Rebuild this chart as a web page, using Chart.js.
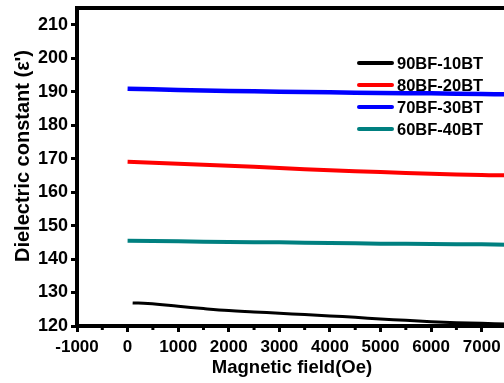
<!DOCTYPE html>
<html>
<head>
<meta charset="utf-8">
<script src="https://cdn.jsdelivr.net/npm/chart.js@4/dist/chart.umd.min.js"></script>
<style>
  html, body { margin: 0; padding: 0; background: #fff; overflow: hidden; }
  #wrap { width: 512px; height: 383px; }
</style>
</head>
<body>
<div id="wrap"><canvas id="chart" width="512" height="383"></canvas></div>
<script>
"use strict";

// ===== Data =====
const seriesNames = ['90BF-10BT', '80BF-20BT', '70BF-30BT', '60BF-40BT'];
const seriesColors = ['#000000', '#ff0000', '#0000ff', '#008080'];

const fieldBlack = [100, 400, 1000, 1500, 2000, 2500, 3000, 3500, 4000, 4500, 5000, 5500, 6000, 6500, 7000, 7500];
const eps90BF = [126.9, 126.7, 125.9, 125.2, 124.6, 124.2, 123.8, 123.4, 123.0, 122.6, 122.1, 121.7, 121.3, 121.0, 120.8, 120.6];

const fieldOe = [0, 1000, 2000, 3000, 4000, 5000, 6000, 7000, 7500];
const eps80BF = [169.1, 168.5, 167.9, 167.2, 166.5, 166.0, 165.5, 165.1, 165.0];
const eps70BF = [190.9, 190.5, 190.2, 190.0, 189.8, 189.6, 189.5, 189.3, 189.2];
const eps60BF = [145.5, 145.3, 145.1, 145.0, 144.8, 144.6, 144.5, 144.4, 144.3];

const xMin = -1000, xMax = 7500, xStep = 500;
const yMin = 120, yMax = 215, yStep = 5;

// ===== Helpers =====
const FONT = "'Liberation Sans', Arial, sans-serif";
const pts = (xs, ys) => xs.map((x, i) => ({ x, y: ys[i] }));

function mkSet(ix, xs, ys, width) {
    return {
        label: seriesNames[ix],
        data: pts(xs, ys),
        borderColor: seriesColors[ix],
        backgroundColor: seriesColors[ix],
        borderWidth: width,
        pointRadius: 0,
        tension: 0.4,
        fill: false
    };
}

// frame top, minor ticks, y title, legend
const decor = {
    id: 'decor',
    afterDraw(chart) {
        const { ctx, chartArea: ca, scales } = chart;
        ctx.save();
        ctx.strokeStyle = '#000';
        ctx.lineWidth = 4;
        ctx.beginPath();
        ctx.moveTo(ca.left - 2, ca.top);
        ctx.lineTo(ca.right + 10, ca.top);
        ctx.stroke();

        // minor ticks
        ctx.lineWidth = 3;
        scales.x.ticks.forEach((t) => {
            if (t.value % 1000 !== 0) {
                const px = scales.x.getPixelForValue(t.value);
                ctx.beginPath();
                ctx.moveTo(px, ca.bottom);
                ctx.lineTo(px, ca.bottom + 4);
                ctx.stroke();
            }
        });
        scales.y.ticks.forEach((t) => {
            if (t.value % 10 !== 0 && t.value < yMax) {
                const py = scales.y.getPixelForValue(t.value);
                ctx.beginPath();
                ctx.moveTo(ca.left, py);
                ctx.lineTo(ca.left - 4, py);
                ctx.stroke();
            }
        });

        // y title
        ctx.fillStyle = '#000';
        ctx.font = 'bold 20px ' + FONT;
        ctx.textAlign = 'center';
        ctx.textBaseline = 'middle';
        ctx.translate(23, 156);
        ctx.rotate(-Math.PI / 2);
        ctx.fillText("Dielectric constant (\u03b5')", 0, 0);
        ctx.restore();

        // legend
        ctx.save();
        ctx.font = 'bold 16.5px ' + FONT;
        ctx.textBaseline = 'middle';
        ctx.textAlign = 'left';
        chart.data.datasets.forEach((ds, i) => {
            const y = 63 + i * 22;
            ctx.strokeStyle = ds.borderColor;
            ctx.lineWidth = 4;
            ctx.lineCap = 'round';
            ctx.beginPath();
            ctx.moveTo(359, y);
            ctx.lineTo(392, y);
            ctx.stroke();
            ctx.fillStyle = '#000';
            ctx.fillText(ds.label, 397, y + 1);
        });
        ctx.restore();
    }
};

new Chart(document.getElementById('chart'), {
    type: 'line',
    data: {
        datasets: [
            mkSet(0, fieldBlack, eps90BF, 3),
            mkSet(1, fieldOe, eps80BF, 4),
            mkSet(2, fieldOe, eps70BF, 4.5),
            mkSet(3, fieldOe, eps60BF, 4)
        ]
    },
    options: {
        responsive: false,
        animation: false,
        layout: { padding: { top: 8, right: 5, left: 0, bottom: 0 } },
        plugins: { legend: { display: false }, tooltip: { enabled: false } },
        scales: {
            x: {
                type: 'linear',
                min: xMin, max: xMax,
                afterFit: (s) => { s.height = 57; s.paddingRight = 0; },
                border: { display: true, width: 4, color: '#000' },
                grid: {
                    drawOnChartArea: false, drawTicks: true, tickLength: 6,
                    tickColor: '#000',
                    tickWidth: (c) => (c.tick && c.tick.value % 1000 === 0 ? 3 : 0)
                },
                ticks: {
                    stepSize: xStep, autoSkip: false, maxRotation: 0, padding: 5,
                    color: '#000', font: { family: FONT, size: 17, weight: 'bold' },
                    callback: (v) => (v % 1000 === 0 ? String(v) : '')
                },
                title: {
                    display: true, text: 'Magnetic field(Oe)', color: '#000',
                    font: { family: FONT, size: 18.5, weight: 'bold' },
                    padding: { top: 0, bottom: 4 }
                }
            },
            y: {
                type: 'linear',
                min: yMin, max: yMax,
                afterFit: (s) => { s.width = 77; s.paddingTop = 0; s.paddingBottom = 0; },
                border: { display: true, width: 4, color: '#000' },
                grid: {
                    drawOnChartArea: false, drawTicks: true, tickLength: 6,
                    tickColor: '#000',
                    tickWidth: (c) => (c.tick && c.tick.value % 10 === 0 ? 3 : 0)
                },
                ticks: {
                    stepSize: yStep, padding: 3,
                    color: '#000', font: { family: FONT, size: 18, weight: 'bold' },
                    callback: (v) => (v % 10 === 0 ? String(v) : '')
                }
            }
        }
    },
    plugins: [decor]
});
</script>
</body>
</html>
